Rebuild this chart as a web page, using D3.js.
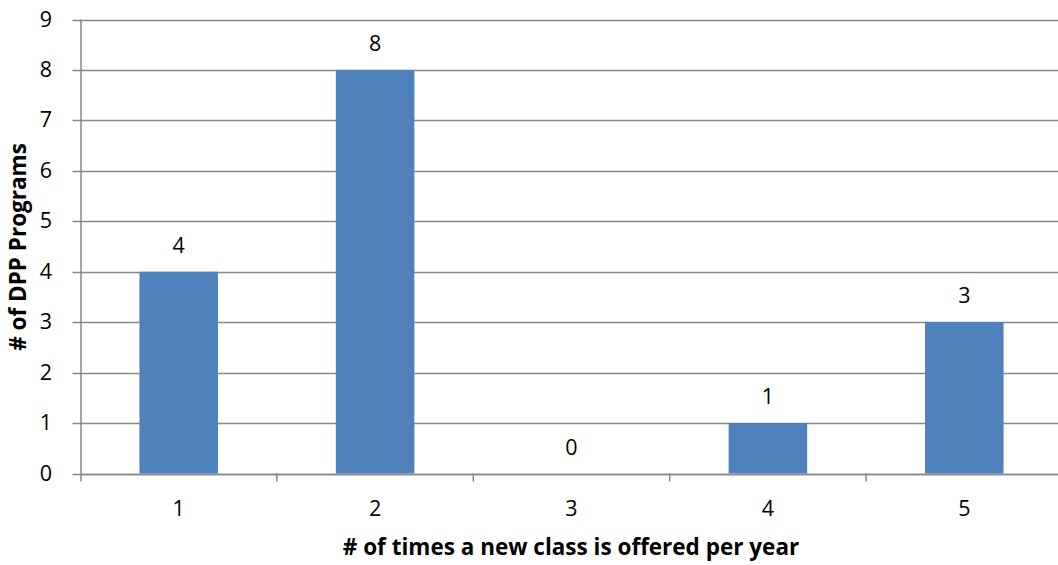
<!DOCTYPE html>
<html>
<head>
<meta charset="utf-8">
<script src="https://cdn.jsdelivr.net/npm/d3@7"></script>
<style>
  html, body { margin: 0; padding: 0; background: #fff; }
  svg { display: block; font-family: "Open Sans", "Liberation Sans", sans-serif; }
</style>
</head>
<body>
<svg id="chart" width="1058" height="565"></svg>
<script>
// Number of DPP programs by how often a new class is offered each year
const categories = ["1", "2", "3", "4", "5"];
const programCounts = [4, 8, 0, 1, 3];
const yTicks = [0, 1, 2, 3, 4, 5, 6, 7, 8, 9];
const xTitle = "# of times a new class is offered per year";
const yTitle = "# of DPP Programs";

const svg = d3.select("#chart");
const plotLeft = 80.5, plotRight = 1062.5, plotTop = 19.5, plotBottom = 473.5;

const x = d3.scaleBand()
  .domain(categories)
  .range([plotLeft, plotRight])
  .paddingInner(0.6)
  .paddingOuter(0.3);

const y = d3.scaleLinear().domain([0, 9]).range([plotBottom, plotTop]);

const gridColor = "#878787";
const labelSize = 21.5;
const titleSize = 22.5;

// horizontal gridlines, extending left as tick marks
svg.append("g")
  .selectAll("line")
  .data(yTicks)
  .join("line")
  .attr("x1", plotLeft - 8)
  .attr("x2", 1058)
  .attr("y1", d => Math.round(y(d)) + 0.5)
  .attr("y2", d => Math.round(y(d)) + 0.5)
  .attr("stroke", gridColor)
  .attr("stroke-width", 1.5);

// bars
svg.append("g")
  .selectAll("rect")
  .data(programCounts)
  .join("rect")
  .attr("x", (d, i) => x(categories[i]))
  .attr("width", x.bandwidth())
  .attr("y", d => y(d))
  .attr("height", d => y(0) - y(d))
  .attr("fill", "#4F81BD");

// y axis line
svg.append("line")
  .attr("x1", plotLeft + 0.5).attr("x2", plotLeft + 0.5)
  .attr("y1", plotTop).attr("y2", plotBottom + 8)
  .attr("stroke", gridColor).attr("stroke-width", 1.5);

// x axis baseline and category boundary ticks
svg.append("line")
  .attr("x1", plotLeft).attr("x2", 1058)
  .attr("y1", Math.round(y(0)) + 0.5).attr("y2", Math.round(y(0)) + 0.5)
  .attr("stroke", gridColor).attr("stroke-width", 1.5);

const boundaries = categories.map((c, i) => plotLeft + i * x.step()).slice(1);
svg.append("g")
  .selectAll("line")
  .data(boundaries)
  .join("line")
  .attr("x1", d => d).attr("x2", d => d)
  .attr("y1", plotBottom).attr("y2", plotBottom + 8)
  .attr("stroke", gridColor).attr("stroke-width", 1.5);

// y tick labels
svg.append("g")
  .selectAll("text")
  .data(yTicks)
  .join("text")
  .attr("x", 52)
  .attr("y", d => y(d))
  .attr("dy", "0.33em")
  .attr("text-anchor", "end")
  .attr("font-size", labelSize)
  .attr("fill", "#000")
  .text(d => d);

// x tick labels
svg.append("g")
  .selectAll("text")
  .data(categories)
  .join("text")
  .attr("x", d => x(d) + x.bandwidth() / 2)
  .attr("y", 516)
  .attr("text-anchor", "middle")
  .attr("font-size", labelSize)
  .attr("fill", "#000")
  .text(d => d);

// value labels above bars
svg.append("g")
  .selectAll("text")
  .data(programCounts)
  .join("text")
  .attr("x", (d, i) => x(categories[i]) + x.bandwidth() / 2)
  .attr("y", d => y(d) - 19)
  .attr("text-anchor", "middle")
  .attr("font-size", labelSize)
  .attr("fill", "#000")
  .text(d => d);

// axis titles
svg.append("text")
  .attr("x", 571)
  .attr("y", 555)
  .attr("text-anchor", "middle")
  .attr("font-size", titleSize)
  .attr("font-weight", "bold")
  .text(xTitle);

svg.append("text")
  .attr("transform", "translate(26,247) rotate(-90)")
  .attr("text-anchor", "middle")
  .attr("font-size", titleSize)
  .attr("font-weight", "bold")
  .text(yTitle);
</script>
</body>
</html>
